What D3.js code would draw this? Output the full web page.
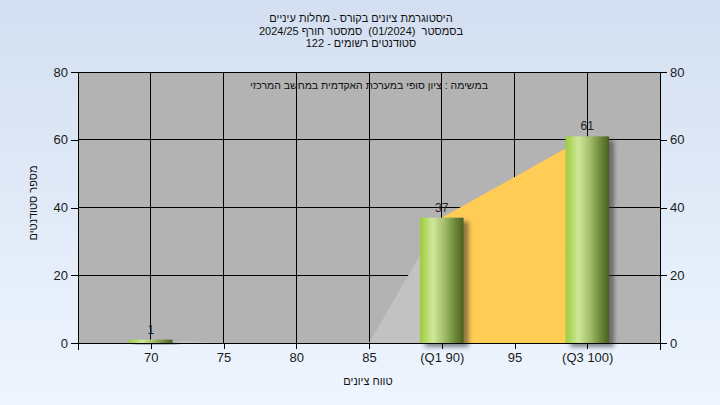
<!DOCTYPE html>
<html><head><meta charset="utf-8">
<script src="https://cdn.jsdelivr.net/npm/d3@7"></script>
<style>body{margin:0;padding:0;overflow:hidden}svg{display:block}text{white-space:pre}</style>
</head><body>
<svg id="c" width="720" height="405"></svg>
<script>
const titleLines = ["היסטוגרמת ציונים בקורס - מחלות עיניים", "בסמסטר  (01/2024)  סמסטר חורף 2024/25", "סטודנטים רשומים - 122"];
const subTitle = "במשימה : ציון סופי במערכת האקדמית במחשב המרכזי";
const xTitle = "טווח ציונים";
const yTitle = "מספר סטודנטים";
const barX = [70, 90, 100];
const barValues = [1, 37, 61];
const xTicks = [70, 75, 80, 85, 90, 95, 100];
const xTickLabels = ["70", "75", "80", "85", "(Q1 90)", "95", "(Q3 100)"];
const yTicks = [0, 20, 40, 60, 80];
const areaX = [70, 75, 80, 85, 90, 100];
const areaValues = [1, 0, 0, 0, 37, 61];
const areaColors = ["#c2c2c2", "#c2c2c2", "#c2c2c2", "#c2c2c2", "#ffcc55"];

const svg = d3.select("#c");
const W = 720, H = 405;
const L = 78, R = 660, T = 72, B = 343;
const x = d3.scaleLinear().domain([65, 105]).range([L, R]);
const y = d3.scaleLinear().domain([0, 80]).range([B, T]);
const font = "'Liberation Sans', Arial, sans-serif";

const defs = svg.append("defs");
const bg = defs.append("linearGradient").attr("id", "bg").attr("x1", 0).attr("y1", 0).attr("x2", 0).attr("y2", 1);
bg.append("stop").attr("offset", "0%").attr("stop-color", "#d3dff1");
bg.append("stop").attr("offset", "100%").attr("stop-color", "#eef5fe");
const bar = defs.append("linearGradient").attr("id", "bar").attr("x1", 0).attr("y1", 0).attr("x2", 1).attr("y2", 0);
[["0%", "#9ccc3c"], ["30%", "#cfe79a"], ["55%", "#a4bf6c"], ["80%", "#6d8a3a"], ["100%", "#4a5f22"]].forEach(s =>
  bar.append("stop").attr("offset", s[0]).attr("stop-color", s[1]));
const f = defs.append("filter").attr("id", "sh").attr("x", "-20%").attr("y", "-20%").attr("width", "150%").attr("height", "150%");
f.append("feDropShadow").attr("dx", 5).attr("dy", 4).attr("stdDeviation", 2).attr("flood-color", "#333").attr("flood-opacity", 0.55);

svg.append("rect").attr("width", W).attr("height", H).attr("fill", "url(#bg)");

// titles
svg.append("g").selectAll("text").data(titleLines).join("text")
  .attr("x", 361).attr("y", (d, i) => 22 + i * 12.5)
  .attr("text-anchor", "middle").attr("font-family", font).attr("font-size", 11).attr("fill", "#111")
  .text(d => d);

// plot background
svg.append("rect").attr("x", L).attr("y", T).attr("width", R - L).attr("height", B - T).attr("fill", "#b3b3b3");

// grid
const g = svg.append("g").attr("stroke", "#000").attr("stroke-width", 1).attr("shape-rendering", "crispEdges");
g.selectAll(".gy").data(yTicks).join("line").attr("x1", L).attr("x2", R).attr("y1", d => y(d)).attr("y2", d => y(d));
g.selectAll(".gx").data(xTicks).join("line").attr("x1", d => x(d)).attr("x2", d => x(d)).attr("y1", T).attr("y2", B);

// area segments
const segs = d3.range(areaX.length - 1).map(i => ({x0: areaX[i], x1: areaX[i + 1], v0: areaValues[i], v1: areaValues[i + 1], c: areaColors[i]}));
const area = d3.area().x(d => x(d[0])).y0(y(0)).y1(d => y(d[1]));
svg.append("g").selectAll("path").data(segs).join("path")
  .attr("d", s => area([[s.x0, s.v0], [s.x1, s.v1]])).attr("fill", s => s.c);

// bars
const bw = x(68) - x(65);
svg.append("g").selectAll("rect").data(barValues).join("rect")
  .attr("x", (d, i) => x(barX[i]) - bw / 2).attr("width", bw)
  .attr("y", d => y(d)).attr("height", d => y(0) - y(d))
  .attr("fill", "url(#bar)").attr("filter", "url(#sh)");

// axes
const axL = svg.append("g").attr("transform", `translate(${L},0)`).call(d3.axisLeft(y).tickValues(yTicks).tickSize(7).tickPadding(3));
const axR = svg.append("g").attr("transform", `translate(${R},0)`).call(d3.axisRight(y).tickValues(yTicks).tickSize(7).tickPadding(3));
const axB = svg.append("g").attr("transform", `translate(0,${B})`).call(d3.axisBottom(x).tickValues(xTicks).tickFormat((d, i) => xTickLabels[i]).tickSize(6).tickPadding(4));
[axL, axR, axB].forEach(a => {
  a.select(".domain").attr("stroke", "#000").attr("shape-rendering", "crispEdges");
  a.selectAll(".tick line").attr("stroke", "#000").attr("shape-rendering", "crispEdges");
  a.selectAll("text").attr("font-family", font).attr("font-size", 13).attr("fill", "#1a1a1a");
});
axL.select(".domain").attr("d", `M0,${B + 7}V${T}`);
axR.select(".domain").attr("d", `M0,${B + 7}V${T}`);
axB.select(".domain").attr("d", `M${L},0H${R}`);
svg.append("line").attr("x1", L).attr("x2", R).attr("y1", T + 0.5).attr("y2", T + 0.5).attr("stroke", "#000");

// bar labels
svg.append("g").selectAll("text").data(barValues).join("text")
  .attr("x", (d, i) => x(barX[i])).attr("y", d => y(d) - 6)
  .attr("text-anchor", "middle").attr("font-family", font).attr("font-size", 12).attr("fill", "#222")
  .text(d => d);

// subtitle inside plot
svg.append("text").attr("x", 369).attr("y", 89).attr("text-anchor", "middle")
  .attr("font-family", font).attr("font-size", 10.5).attr("fill", "#111").text(subTitle);

// axis titles
svg.append("text").attr("x", 368).attr("y", 385).attr("text-anchor", "middle")
  .attr("font-family", font).attr("font-size", 11).attr("fill", "#111").text(xTitle);
svg.append("text").attr("transform", "translate(37,203) rotate(-90)").attr("text-anchor", "middle")
  .attr("font-family", font).attr("font-size", 11).attr("fill", "#111").text(yTitle);
</script>
</body></html>
